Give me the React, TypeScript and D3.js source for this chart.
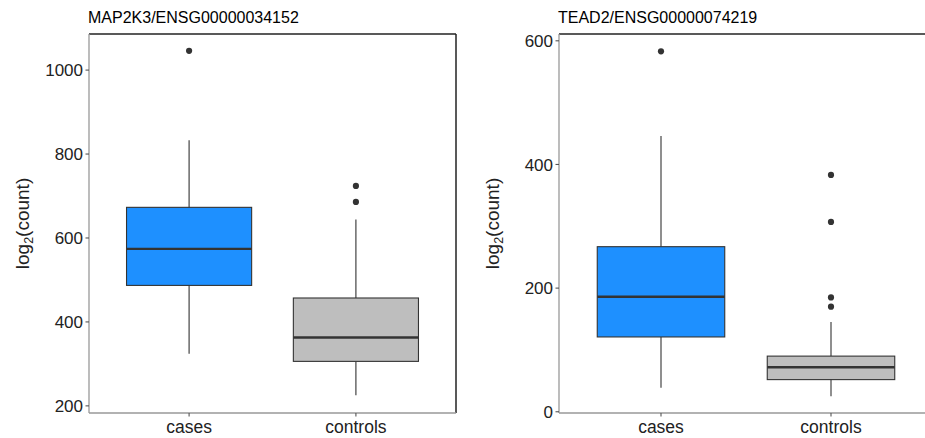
import React from "react";
import * as d3 from "d3";

const groups = ["cases", "controls"];
const fills = ["#1E90FF", "#BEBEBE"];

const titleA = "MAP2K3/ENSG00000034152";
const ticksA = [200, 400, 600, 800, 1000];
const domainA = [183, 1086];
// [lowerWhisker, Q1, median, Q3, upperWhisker]
const statsA = [
  [324, 487, 574, 673, 833],
  [225, 306, 363, 457, 644],
];
const outliersA = [[1046], [724, 686]];

const titleB = "TEAD2/ENSG00000074219";
const ticksB = [0, 200, 400, 600];
const domainB = [-2, 611];
const statsB = [
  [39, 121, 186, 267, 446],
  [25, 52, 72, 90, 145],
];
const outliersB = [[583], [383, 307, 185, 170]];

const FONT = "'Liberation Sans', Arial, Helvetica, sans-serif";

type PanelProps = {
  left: number;
  right: number;
  top: number;
  bottom: number;
  title: string;
  ticks: number[];
  domain: number[];
  stats: number[][];
  outliers: number[][];
};

function Panel({ left, right, top, bottom, title, ticks, domain, stats, outliers }: PanelProps) {
  const y = d3.scaleLinear().domain(domain).range([bottom, top]);
  const x = d3.scaleLinear().domain([0.4, 2.6]).range([left, right]);
  const boxW = 0.75;
  return (
    <g>
      <text x={left - 1} y={22.7} fontSize={16} fontFamily={FONT} fill="#000">
        {title}
      </text>
      {groups.map((g, i) => {
        const cx = x(i + 1);
        const x0 = x(i + 1 - boxW / 2);
        const x1 = x(i + 1 + boxW / 2);
        const [lw, q1, med, q3, uw] = stats[i];
        return (
          <g key={g}>
            <line x1={cx} x2={cx} y1={y(uw)} y2={y(q3)} stroke="#333" strokeWidth={1.1} />
            <line x1={cx} x2={cx} y1={y(q1)} y2={y(lw)} stroke="#333" strokeWidth={1.1} />
            <rect
              x={x0}
              y={y(q3)}
              width={x1 - x0}
              height={y(q1) - y(q3)}
              fill={fills[i]}
              stroke="#333"
              strokeWidth={1.1}
            />
            <line x1={x0} x2={x1} y1={y(med)} y2={y(med)} stroke="#333" strokeWidth={2.4} />
            {outliers[i].map((v, k) => (
              <circle key={k} cx={cx} cy={y(v)} r={3.1} fill="#333" />
            ))}
          </g>
        );
      })}
      <line x1={left} x2={right} y1={top} y2={top} stroke="#222" strokeWidth={1.5} />
      <line x1={right} x2={right} y1={top} y2={bottom} stroke="#222" strokeWidth={1.5} />
      <line x1={left} x2={left} y1={top} y2={bottom} stroke="#999" strokeWidth={1.3} />
      <line x1={left} x2={right} y1={bottom} y2={bottom} stroke="#999" strokeWidth={1.3} />
      {ticks.map((t) => (
        <g key={t}>
          <line x1={left - 3.5} x2={left} y1={y(t)} y2={y(t)} stroke="#555" strokeWidth={1.1} />
          <text
            x={left - 6}
            y={y(t)}
            dy="0.36em"
            textAnchor="end"
            fontSize={17}
            fontFamily={FONT}
            fill="#222"
          >
            {t}
          </text>
        </g>
      ))}
      {groups.map((g, i) => (
        <g key={g}>
          <line x1={x(i + 1)} x2={x(i + 1)} y1={bottom} y2={bottom + 3.5} stroke="#555" strokeWidth={1.1} />
          <text x={x(i + 1)} y={432.5} textAnchor="middle" fontSize={17.5} fontFamily={FONT} fill="#222">
            {g}
          </text>
        </g>
      ))}
      <text
        transform={`translate(${left - 60},${(top + bottom) / 2}) rotate(-90)`}
        textAnchor="middle"
        fontSize={19}
        fontFamily={FONT}
        fill="#222"
      >
        log
        <tspan fontSize={12.5} dy={4}>2</tspan>
        <tspan dy={-4}>(count)</tspan>
      </text>
    </g>
  );
}

export default function App() {
  return (
    <div style={{ position: "absolute", left: 0, top: 0 }}>
      <svg width={925} height={438} style={{ display: "block", background: "#fff" }}>
        <rect x={0} y={0} width={925} height={438} fill="#fff" />
        <Panel
          left={89}
          right={456}
          top={34}
          bottom={413}
          title={titleA}
          ticks={ticksA}
          domain={domainA}
          stats={statsA}
          outliers={outliersA}
        />
        <Panel
          left={559}
          right={933}
          top={34}
          bottom={413}
          title={titleB}
          ticks={ticksB}
          domain={domainB}
          stats={statsB}
          outliers={outliersB}
        />
      </svg>
    </div>
  );
}
